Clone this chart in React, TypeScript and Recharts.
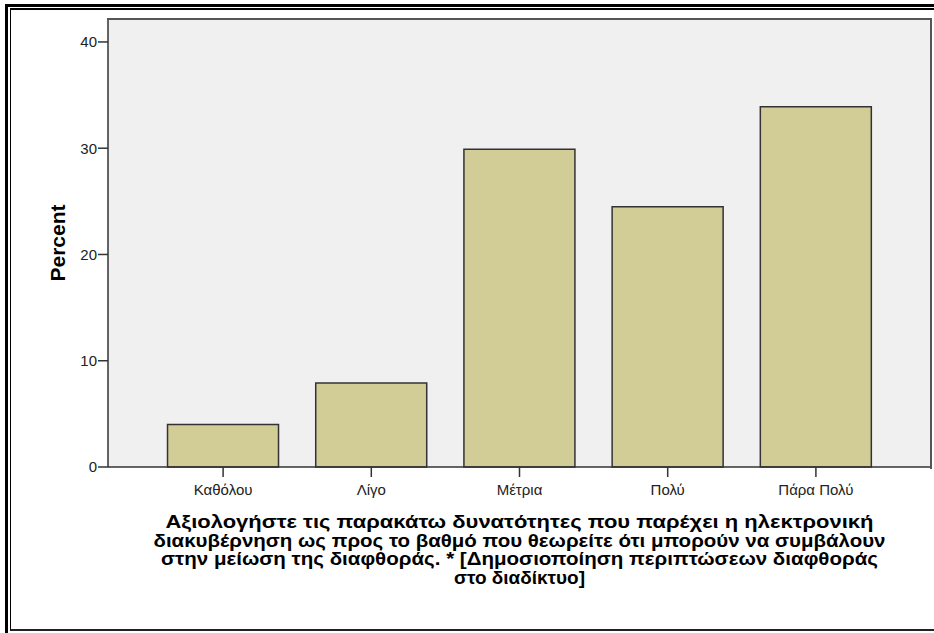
import React from 'react';
import { BarChart, Bar, XAxis, YAxis, CartesianGrid, Label } from 'recharts';

const CATEGORIES = ['Καθόλου', 'Λίγο', 'Μέτρια', 'Πολύ', 'Πάρα Πολύ'];
const PERCENTS = [4.0, 7.9, 29.9, 24.5, 33.9];
const Y_TICKS = [0, 10, 20, 30, 40];
const X_TITLE = [
  'Αξιολογήστε τις παρακάτω δυνατότητες που παρέχει η ηλεκτρονική',
  'διακυβέρνηση ως προς το βαθμό που θεωρείτε ότι μπορούν να συμβάλουν',
  'στην μείωση της διαφθοράς. * [Δημοσιοποίηση περιπτώσεων διαφθοράς',
  'στο διαδίκτυο]',
];

const data = CATEGORIES.map((name, i) => ({ name, percent: PERCENTS[i] }));

const FONT = '"Liberation Sans", Arial, sans-serif';
// rendered widths of the title lines in the original (its font runs wider)
const TITLE_WIDTHS = [708, 732, 717, 131];

const XTitle = (props: any) => {
  const { viewBox } = props;
  const cx = viewBox.x + viewBox.width / 2;
  return (
    <g>
      {X_TITLE.map((line, i) => (
        <text
          key={i}
          x={cx}
          y={528 + i * 18.5}
          textAnchor="middle"
          fontFamily={FONT}
          fontSize={18}
          fontWeight="bold"
          fill="#000"
          textLength={TITLE_WIDTHS[i]}
          lengthAdjust="spacingAndGlyphs"
        >
          {line}
        </text>
      ))}
    </g>
  );
};

export default function App() {
  return (
    <div style={{ position: 'absolute', left: 0, top: 0, width: 934, height: 633, overflow: 'hidden', background: '#fff' }}>
      {/* double frame, cut off on the right */}
      <div style={{ position: 'absolute', left: 5, top: 4, width: 940, height: 630, border: '3px solid #000' }} />
      <div style={{ position: 'absolute', left: 10, top: 8, width: 940, height: 619, borderTop: '2px solid #000', borderLeft: '1px solid #000', borderBottom: '2px solid #222' }} />

      <div style={{ position: 'absolute', left: 0, top: 0 }}>
        <BarChart
          width={934}
          height={633}
          data={data}
          margin={{ top: 19, right: 3, bottom: 0, left: 0 }}
          barCategoryGap="12.5%"
        >
          <CartesianGrid horizontal={false} vertical={false} fill="#f0f0f0" />
          <XAxis
            dataKey="name"
            padding={{ left: 41, right: 41 }}
            axisLine={{ stroke: '#333', strokeWidth: 1.5 }}
            tickLine={{ stroke: '#333', strokeWidth: 1.5 }}
            tickSize={10}
            tickMargin={7}
            tick={{ fill: '#222', fontSize: 15, fontFamily: FONT }}
            height={166}
            interval={0}
          >
            <Label content={<XTitle />} />
          </XAxis>
          <YAxis
            domain={[0, 42.16]}
            ticks={Y_TICKS}
            width={108}
            axisLine={{ stroke: '#333', strokeWidth: 1.5 }}
            tickLine={{ stroke: '#333', strokeWidth: 1.5 }}
            tickSize={10}
            tickMargin={1}
            tick={{ fill: '#222', fontSize: 15, fontFamily: FONT }}
          >
            <Label
              value="Percent"
              angle={-90}
              position="insideLeft"
              offset={0}
              dx={58}
              style={{ fontFamily: FONT, fontSize: 21, fontWeight: 'bold', fill: '#000', textAnchor: 'middle' }}
            />
          </YAxis>
          <Bar dataKey="percent" fill="#d2cd97" stroke="#333" strokeWidth={1.5} isAnimationActive={false} />
        </BarChart>
      </div>

      {/* top and right edges of the plot frame */}
      <div style={{ position: 'absolute', left: 107, top: 18, width: 823, height: 449, borderTop: '2px solid #555', borderRight: '2px solid #555', pointerEvents: 'none' }} />
    </div>
  );
}
